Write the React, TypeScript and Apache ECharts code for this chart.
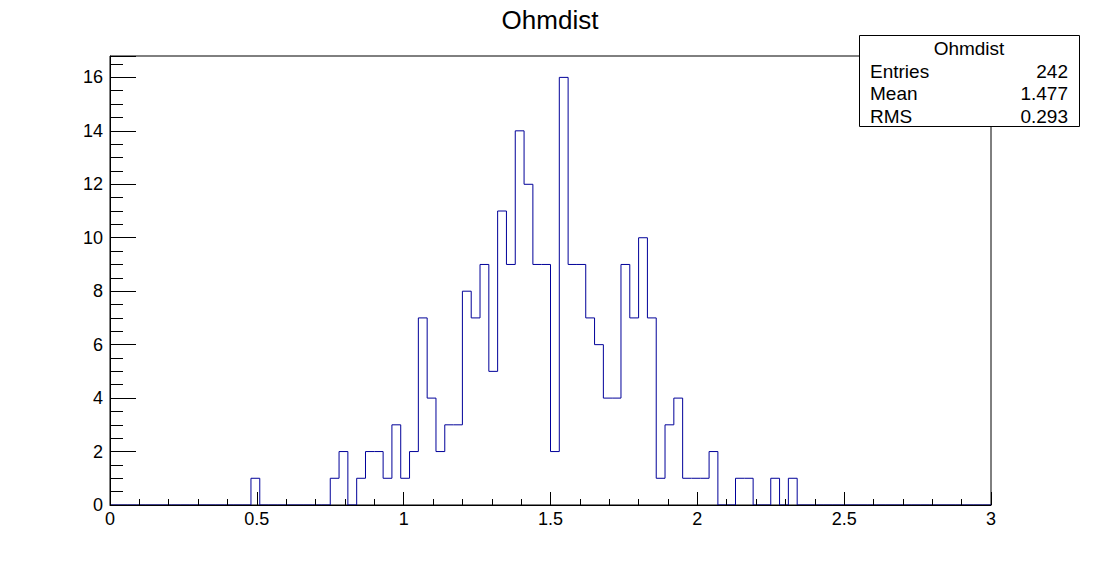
import React, { useEffect, useRef } from 'react';
import * as echarts from 'echarts';

const chartTitle = 'Ohmdist';
const xMin = 0;
const xMax = 3;
const nBins = 100;
const binCounts = [
  0, 0, 0, 0, 0, 0, 0, 0, 0, 0,
  0, 0, 0, 0, 0, 0, 1, 0, 0, 0,
  0, 0, 0, 0, 0, 1, 2, 0, 1, 2,
  2, 1, 3, 1, 2, 7, 4, 2, 3, 3,
  8, 7, 9, 5, 11, 9, 14, 12, 9, 9,
  2, 16, 9, 9, 7, 6, 4, 4, 9, 7,
  10, 7, 1, 3, 4, 1, 1, 1, 2, 0,
  0, 1, 1, 0, 0, 1, 0, 1, 0, 0,
  0, 0, 0, 0, 0, 0, 0, 0, 0, 0,
  0, 0, 0, 0, 0, 0, 0, 0, 0, 0,
];
const yMax = 16.8;
const statsTitle = 'Ohmdist';
const statsLabels = ['Entries', 'Mean', 'RMS'];
const statsValues = ['242', '1.477', '0.293'];

const FONT = '"Liberation Sans", Arial, Helvetica, sans-serif';

export default function App() {
  const ref = useRef<HTMLDivElement>(null);
  useEffect(() => {
    if (!ref.current) return;
    const chart = echarts.init(ref.current, undefined, { renderer: 'svg' });
    const bw = (xMax - xMin) / nBins;
    const data: number[][] = binCounts.map((v, i) => [xMin + i * bw, v]);
    data.push([xMax, 0]);

    const rowY = [71, 93, 116];
    const statsGraphics: any[] = [
      {
        type: 'rect',
        shape: { x: 859.5, y: 35.5, width: 220, height: 91 },
        style: { fill: '#fff', stroke: '#000', lineWidth: 1 },
        z: 100,
      },
      {
        type: 'text',
        x: 969,
        y: 48,
        style: { text: statsTitle, font: `19px ${FONT}`, fill: '#000', align: 'center', verticalAlign: 'middle' },
        z: 101,
      },
    ];
    statsLabels.forEach((lab, i) => {
      statsGraphics.push({
        type: 'text',
        x: 870,
        y: rowY[i],
        style: { text: lab, font: `19px ${FONT}`, fill: '#000', align: 'left', verticalAlign: 'middle' },
        z: 101,
      });
      statsGraphics.push({
        type: 'text',
        x: 1068,
        y: rowY[i],
        style: { text: statsValues[i], font: `19px ${FONT}`, fill: '#000', align: 'right', verticalAlign: 'middle' },
        z: 101,
      });
    });

    const isMajor = (v: number) => Math.abs(v / 2 - Math.round(v / 2)) < 1e-6;

    chart.setOption({
      animation: false,
      backgroundColor: '#fff',
      grid: {
        left: 110,
        top: 56,
        width: 881,
        height: 449,
        show: true,
        borderColor: '#000',
        borderWidth: 1,
        backgroundColor: 'transparent',
      },
      xAxis: {
        type: 'value',
        min: xMin,
        max: xMax,
        interval: 0.5,
        z: 5,
        axisLine: { show: true, onZero: false, lineStyle: { color: '#000', width: 1 } },
        axisTick: { show: true, inside: true, length: 13, lineStyle: { color: '#000', width: 1 } },
        minorTick: { show: true, splitNumber: 5, length: 6, lineStyle: { color: '#000', width: 1 } },
        axisLabel: { margin: 5, fontSize: 18, fontFamily: FONT, color: '#000' },
        splitLine: { show: false },
      },
      yAxis: [
        {
          type: 'value',
          min: 0,
          max: yMax,
          interval: 0.5,
          position: 'left',
          z: 5,
          axisLine: { show: true, onZero: false, lineStyle: { color: '#000', width: 1 } },
          axisTick: { show: true, inside: true, length: 13, lineStyle: { color: '#000', width: 1 } },
          axisLabel: {
            margin: 7,
            fontSize: 18,
            fontFamily: FONT,
            color: '#000',
            showMaxLabel: false,
            formatter: (v: number) => (isMajor(v) ? String(Math.round(v)) : ''),
          },
          splitLine: { show: false },
        },
        {
          type: 'value',
          min: 0,
          max: yMax,
          interval: 2,
          position: 'left',
          offset: 0,
          z: 5,
          axisLine: { show: false },
          axisTick: { show: true, inside: true, length: 26, lineStyle: { color: '#000', width: 1 } },
          axisLabel: { show: false },
          splitLine: { show: false },
        },
      ],
      series: [
        {
          type: 'line',
          step: 'end',
          xAxisIndex: 0,
          yAxisIndex: 0,
          data,
          symbol: 'none',
          z: 2,
          lineStyle: { color: '#000099', width: 1 },
          silent: true,
        },
      ],
      graphic: [
        {
          type: 'text',
          x: 550,
          y: 20,
          style: { text: chartTitle, font: `26px ${FONT}`, fill: '#000', align: 'center', verticalAlign: 'middle' },
          z: 100,
        },
        ...statsGraphics,
      ],
    });
    return () => chart.dispose();
  }, []);
  return <div ref={ref} style={{ width: 1102, height: 562, position: 'absolute', left: 0, top: 0 }} />;
}
